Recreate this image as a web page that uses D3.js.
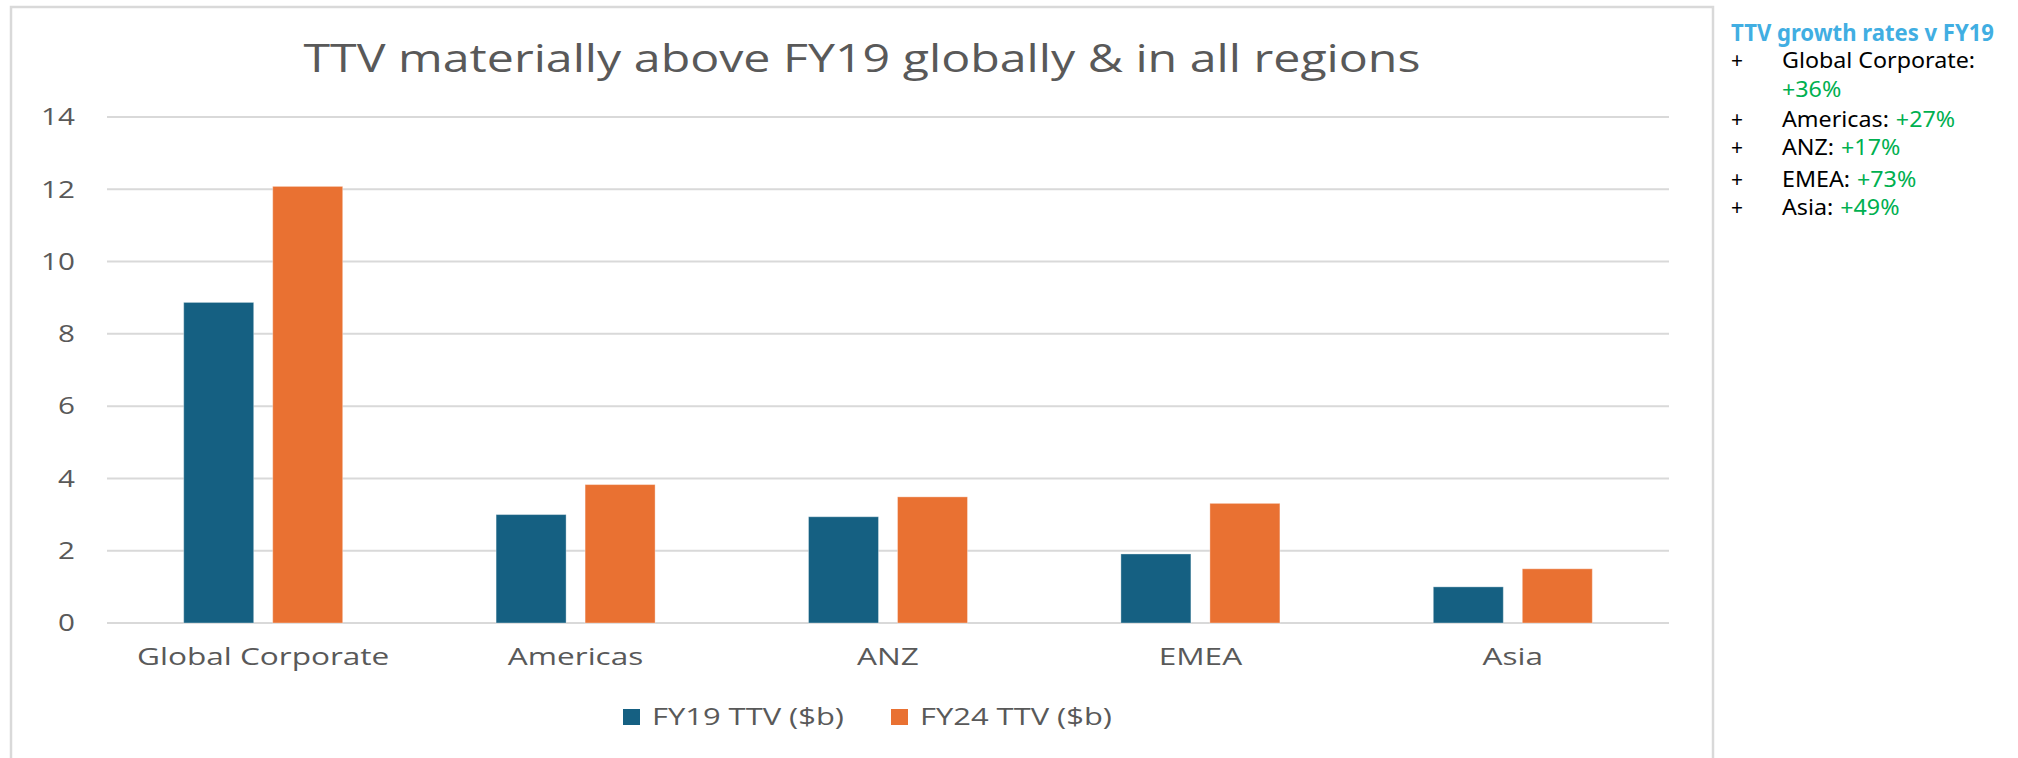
<!DOCTYPE html>
<html>
<head>
<meta charset="utf-8">
<script src="https://cdn.jsdelivr.net/npm/d3@7"></script>
<style>
  html, body { margin: 0; padding: 0; background: #fff; }
  svg { display: block; }
</style>
</head>
<body>
<svg id="chart" width="2018" height="758"></svg>
<script>
// data
var categories = ["Global Corporate", "Americas", "ANZ", "EMEA", "Asia"];
var seriesNames = ["FY19 TTV ($b)", "FY24 TTV ($b)"];
var fy19 = [8.87, 3.0, 2.94, 1.91, 1.0];
var fy24 = [12.08, 3.83, 3.49, 3.31, 1.5];
var yTicks = [0, 2, 4, 6, 8, 10, 12, 14];
var colors = ["#156082", "#E97132"];

var panelTitle = "TTV growth rates v FY19";
var growthLabels = ["Global Corporate:", "Americas:", "ANZ:", "EMEA:", "Asia:"];
var growthRates = ["+36%", "+27%", "+17%", "+73%", "+49%"];

var svg = d3.select("#chart");
var font = "'Open Sans', sans-serif";
var gray = "#595959";

// stretch text horizontally like the (wide) reference rendering
function stretch(sel, k) {
  sel.each(function () {
    var w = this.getComputedTextLength();
    d3.select(this).attr("textLength", w * k).attr("lengthAdjust", "spacingAndGlyphs");
  });
}

// chart frame
svg.append("rect")
  .attr("x", 11).attr("y", 7)
  .attr("width", 1702).attr("height", 800)
  .attr("fill", "none")
  .attr("stroke", "#d9d9d9")
  .attr("stroke-width", 2.5);

var plotL = 107, plotR = 1669, plotT = 117, plotB = 623;

var y = d3.scaleLinear().domain([0, 14]).range([plotB, plotT]);
var x0 = d3.scaleBand().domain(categories).range([plotL, plotR]);
var groupW = 159;
var x1 = d3.scaleBand().domain(seriesNames)
  .range([(x0.bandwidth() - groupW) / 2, (x0.bandwidth() + groupW) / 2])
  .paddingInner(19 / 89);

// title
var title = svg.append("text")
  .attr("x", 862).attr("y", 72)
  .attr("text-anchor", "middle")
  .attr("font-family", font)
  .attr("font-size", 37.5)
  .attr("fill", gray)
  .text("TTV materially above FY19 globally & in all regions");
var tw = title.node().getComputedTextLength();
var k = 1117 / tw;
title.attr("textLength", 1117).attr("lengthAdjust", "spacingAndGlyphs");

// gridlines
svg.append("g")
  .selectAll("line")
  .data(yTicks)
  .join("line")
  .attr("x1", plotL).attr("x2", plotR)
  .attr("y1", function (d) { return y(d); })
  .attr("y2", function (d) { return y(d); })
  .attr("stroke", "#d9d9d9")
  .attr("stroke-width", 2);

// y labels
var yl = svg.append("g")
  .selectAll("text")
  .data(yTicks)
  .join("text")
  .attr("x", 75)
  .attr("y", function (d) { return y(d); })
  .attr("dy", "0.36em")
  .attr("text-anchor", "end")
  .attr("font-family", font)
  .attr("font-size", 23)
  .attr("fill", gray)
  .text(function (d) { return d; });
stretch(yl, k);

// bars
var values = categories.map(function (c, i) {
  return [{ s: seriesNames[0], v: fy19[i] }, { s: seriesNames[1], v: fy24[i] }];
});

var groups = svg.append("g")
  .selectAll("g")
  .data(values)
  .join("g")
  .attr("transform", function (d, i) { return "translate(" + x0(categories[i]) + ",0)"; });

groups.selectAll("rect")
  .data(function (d) { return d; })
  .join("rect")
  .attr("x", function (d) { return x1(d.s); })
  .attr("width", x1.bandwidth())
  .attr("y", function (d) { return y(d.v); })
  .attr("height", function (d) { return plotB - y(d.v); })
  .attr("fill", function (d, i) { return colors[i]; })
  .attr("stroke", "#ffffff")
  .attr("stroke-opacity", 0.35)
  .attr("stroke-width", 1);

// category labels
var xl = svg.append("g")
  .selectAll("text")
  .data(categories)
  .join("text")
  .attr("x", function (d) { return x0(d) + x0.bandwidth() / 2; })
  .attr("y", 665)
  .attr("text-anchor", "middle")
  .attr("font-family", font)
  .attr("font-size", 24.5)
  .attr("fill", gray)
  .text(function (d) { return d; });
stretch(xl, k);

// legend
var legendX = [623, 891];
var lg = svg.append("g")
  .selectAll("g")
  .data(seriesNames)
  .join("g")
  .attr("transform", function (d, i) { return "translate(" + legendX[i] + ",709)"; });
lg.append("rect")
  .attr("width", 17).attr("height", 16)
  .attr("fill", function (d, i) { return colors[i]; });
var lt = lg.append("text")
  .attr("x", 29).attr("y", 16)
  .attr("font-family", font)
  .attr("font-size", 24)
  .attr("fill", gray)
  .text(function (d) { return d; });
stretch(lt, k);

// side panel
var pfont = "'Noto Sans', sans-serif";
var pt = svg.append("text")
  .attr("x", 1731).attr("y", 41)
  .attr("font-family", pfont)
  .attr("font-weight", "bold")
  .attr("font-size", 24)
  .attr("fill", "#41AEE2")
  .text(panelTitle);
pt.attr("textLength", 263).attr("lengthAdjust", "spacingAndGlyphs");

var lineY = [68, 127, 155, 187, 215];
var rows = svg.append("g")
  .selectAll("g")
  .data(growthLabels)
  .join("g");

rows.append("text")
  .attr("x", 1737)
  .attr("y", function (d, i) { return lineY[i]; })
  .attr("text-anchor", "middle")
  .attr("font-family", pfont)
  .attr("font-size", 21)
  .attr("fill", "#000")
  .text("+");

var lab = rows.append("text")
  .attr("x", 1782)
  .attr("y", function (d, i) { return lineY[i]; })
  .attr("font-family", pfont)
  .attr("font-size", 21)
  .attr("fill", "#000")
  .text(function (d) { return d; });
var pk = 193 / lab.node().getComputedTextLength();
stretch(lab, pk);

// rates: first one wraps to its own line
var rt = rows.append("text")
  .attr("x", function (d, i) {
    if (i === 0) return 1782;
    var n = lab.nodes()[i];
    return 1782 + (+n.getAttribute("textLength")) + 7;
  })
  .attr("y", function (d, i) { return i === 0 ? 97 : lineY[i]; })
  .attr("font-family", pfont)
  .attr("font-size", 21)
  .attr("fill", "#00B050")
  .text(function (d, i) { return growthRates[i]; });
stretch(rt, pk);
</script>
</body>
</html>
